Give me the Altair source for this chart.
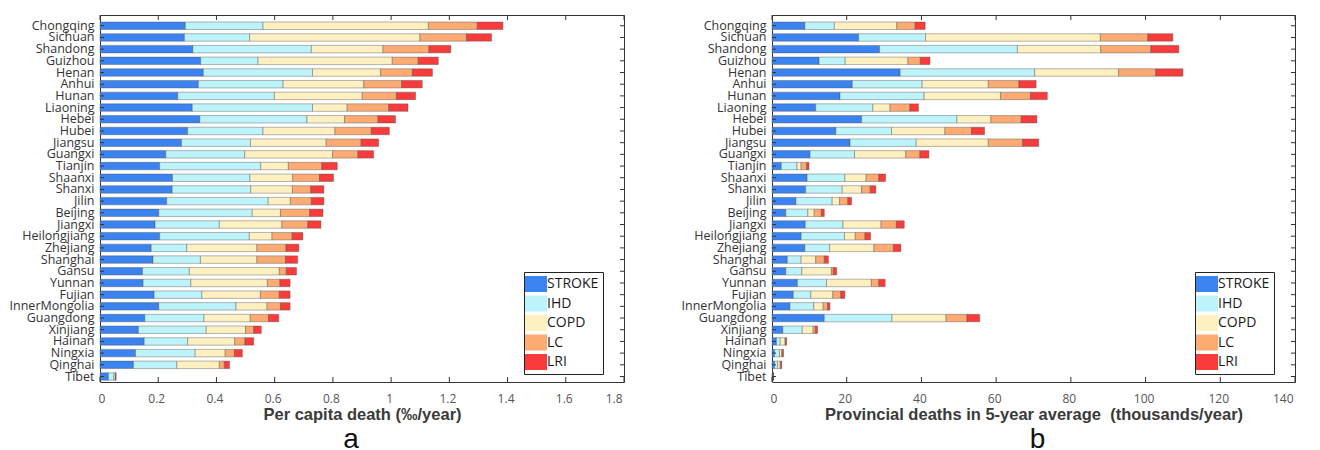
import altair as alt
import pandas as pd

# Provinces, top to bottom
provinces = [
    "Chongqing", "Sichuan", "Shandong", "Guizhou", "Henan", "Anhui", "Hunan",
    "Liaoning", "Hebei", "Hubei", "Jiangsu", "Guangxi", "Tianjin", "Shaanxi",
    "Shanxi", "Jilin", "Beijing", "Jiangxi", "Heilongjiang", "Zhejiang",
    "Shanghai", "Gansu", "Yunnan", "Fujian", "InnerMongolia", "Guangdong",
    "Xinjiang", "Hainan", "Ningxia", "Qinghai", "Tibet",
]
causes = ["STROKE", "IHD", "COPD", "LC", "LRI"]
cause_colors = ["#3b83f1", "#bdf4fb", "#fef0c1", "#fdab73", "#f93b3b"]

# (a) per capita death, per mille per year
pc_stroke = [0.293, 0.290, 0.319, 0.346, 0.355, 0.338, 0.267, 0.317, 0.343, 0.301,
             0.280, 0.226, 0.205, 0.249, 0.248, 0.229, 0.202, 0.189, 0.205, 0.176,
             0.182, 0.146, 0.148, 0.186, 0.202, 0.154, 0.132, 0.152, 0.122, 0.115, 0.029]
pc_ihd = [0.267, 0.224, 0.407, 0.197, 0.375, 0.291, 0.332, 0.413, 0.368, 0.259,
          0.237, 0.271, 0.347, 0.266, 0.270, 0.349, 0.321, 0.221, 0.308, 0.122,
          0.163, 0.161, 0.164, 0.164, 0.265, 0.203, 0.233, 0.149, 0.205, 0.149, 0.019]
pc_copd = [0.568, 0.585, 0.246, 0.461, 0.234, 0.277, 0.302, 0.119, 0.129, 0.247,
           0.260, 0.302, 0.095, 0.147, 0.143, 0.076, 0.097, 0.215, 0.078, 0.241,
           0.194, 0.309, 0.263, 0.201, 0.107, 0.159, 0.135, 0.162, 0.103, 0.146, 0.005]
pc_lc = [0.168, 0.160, 0.158, 0.089, 0.109, 0.130, 0.117, 0.143, 0.115, 0.125,
         0.120, 0.087, 0.115, 0.092, 0.063, 0.072, 0.100, 0.089, 0.069, 0.100,
         0.098, 0.024, 0.043, 0.065, 0.046, 0.063, 0.028, 0.035, 0.032, 0.017, 0.001]
pc_lri = [0.088, 0.086, 0.075, 0.069, 0.069, 0.071, 0.066, 0.066, 0.060, 0.062,
          0.060, 0.054, 0.053, 0.048, 0.045, 0.043, 0.046, 0.045, 0.037, 0.044,
          0.042, 0.035, 0.035, 0.037, 0.033, 0.035, 0.026, 0.030, 0.027, 0.018, 0.001]

# (b) provincial deaths, 5-year average, thousands per year
pv_stroke = [8.8, 23.2, 28.8, 12.6, 34.3, 21.5, 18.2, 11.7, 24.0, 17.1,
             20.9, 10.2, 2.5, 9.4, 9.0, 6.4, 3.7, 8.9, 7.8, 8.8,
             4.1, 3.7, 6.8, 5.7, 4.8, 14.0, 2.9, 1.2, 0.7, 0.7, 0.2]
pv_ihd = [7.9, 17.9, 36.9, 7.0, 36.0, 18.7, 22.5, 15.3, 25.5, 14.9,
          17.7, 11.9, 4.2, 10.1, 9.8, 9.7, 5.9, 10.1, 11.6, 6.6,
          3.7, 4.3, 7.8, 4.7, 6.4, 18.1, 5.2, 1.0, 1.3, 0.8, 0.1]
pv_copd = [16.7, 46.8, 22.3, 16.8, 22.5, 17.7, 20.5, 4.6, 9.1, 14.3,
           19.3, 13.7, 1.1, 5.7, 5.2, 2.0, 1.7, 10.2, 2.9, 11.9,
           3.9, 7.9, 12.0, 5.9, 2.5, 14.5, 2.9, 1.3, 0.6, 0.7, 0.05]
pv_lc = [4.9, 12.7, 13.4, 3.3, 9.9, 8.2, 8.0, 5.3, 8.1, 7.1,
         9.2, 3.8, 1.5, 3.4, 2.3, 2.2, 1.9, 4.1, 2.6, 5.2,
         2.3, 0.5, 2.0, 2.1, 1.2, 5.6, 0.6, 0.2, 0.2, 0.2, 0.02]
pv_lri = [2.7, 6.7, 7.5, 2.6, 7.3, 4.6, 4.5, 2.3, 4.2, 3.5,
          4.3, 2.4, 0.6, 1.8, 1.5, 1.0, 0.8, 2.1, 1.5, 2.0,
          1.1, 0.9, 1.7, 1.1, 0.6, 3.4, 0.6, 0.2, 0.3, 0.2, 0.03]

ticks_a = [0, 0.2, 0.4, 0.6, 0.8, 1, 1.2, 1.4, 1.6, 1.8]
ticks_b = [0, 20, 40, 60, 80, 100, 120, 140]

H = 367
FONT = "Open Sans"
FRAME = "#333333"


def long_table(series):
    rows = []
    for k, cause in enumerate(causes):
        for prov, v in zip(provinces, series[k]):
            rows.append({"province": prov, "cause": cause, "k": k, "value": v})
    return pd.DataFrame(rows)


def panel(df, ticks, xmax, xtitle, tag, tag_dx, width):
    yscale = alt.Scale(domain=provinces, paddingInner=0.36, paddingOuter=0.375, align=0.8)
    xscale = alt.Scale(domain=[0, xmax], nice=False, zero=True)
    x_axis = alt.Axis(values=ticks, format="~r", title=xtitle, ticks=False,
                      domain=False, grid=False, labelPadding=11, tickOffset=-2,
                      labelFont=FONT, labelFontSize=12, labelColor="#555555",
                      titleFont="Liberation Sans", titleFontSize=16.5,
                      titleFontWeight="bold", titleColor="#3a3a3a", titlePadding=2)
    y_axis = alt.Axis(title=None, ticks=False, domain=False, grid=False,
                      labelPadding=6, labelFont=FONT, labelFontSize=12.5,
                      labelColor="#333333")

    bars = alt.Chart(df).mark_bar(
        stroke="#4d4d4d", strokeWidth=0.5, strokeOpacity=0.8
    ).encode(
        x=alt.X("value:Q", stack="zero", scale=xscale, axis=x_axis, title=xtitle),
        y=alt.Y("province:N", sort=provinces, scale=yscale, axis=y_axis, title=None),
        color=alt.Color("cause:N", sort=causes,
                        scale=alt.Scale(domain=causes, range=cause_colors),
                        legend=alt.Legend(title=None, orient="none",
                                          legendX=width - 100, legendY=257,
                                          strokeColor="#222222", fillColor="white",
                                          padding=4, rowPadding=3.5, labelOffset=3,
                                          symbolType="M-1.375,-1H1.375V1H-1.375Z",
                                          symbolSize=256, symbolStrokeWidth=0,
                                          labelFont=FONT, labelFontSize=14,
                                          labelColor="#1a1a1a")),
        order=alt.Order("k:Q", sort="ascending"),
    )

    tick_df = pd.DataFrame({"t": ticks})
    prov_df = pd.DataFrame({"province": provinces})
    rule = dict(color=FRAME, strokeWidth=1)

    def xt():
        return alt.X("t:Q", scale=xscale, axis=x_axis, title=xtitle)

    def yp():
        return alt.Y("province:N", sort=provinces, scale=yscale, axis=y_axis, title=None)

    # inward tick marks on all four sides of the frame
    top_ticks = alt.Chart(tick_df).mark_rule(**rule).encode(
        x=xt(), y=alt.value(0), y2=alt.value(5))
    bottom_ticks = alt.Chart(tick_df).mark_rule(**rule).encode(
        x=xt(), y=alt.value(H), y2=alt.value(H - 5))
    left_ticks = alt.Chart(prov_df).mark_rule(**rule).encode(
        y=yp(), x=alt.value(0), x2=alt.value(4))
    right_ticks = alt.Chart(prov_df).mark_rule(**rule).encode(
        y=yp(), x=alt.value(width - 4), x2=alt.value(width))

    return alt.layer(bars, top_ticks, bottom_ticks, left_ticks, right_ticks).properties(
        width=width, height=H,
        title=alt.TitleParams(tag, orient="bottom", frame="group", anchor="middle",
                              dx=tag_dx, offset=3, font="Liberation Sans", fontSize=28,
                              fontWeight="normal", color="#111111"),
    )


left = panel(long_table([pc_stroke, pc_ihd, pc_copd, pc_lc, pc_lri]),
             ticks_a, 1.8, "Per capita death (‰/year)", "a", -11, 524)
right = panel(long_table([pv_stroke, pv_ihd, pv_copd, pv_lc, pv_lri]),
              ticks_b, 140, "Provincial deaths in 5-year average \u00a0(thousands/year)",
              "b", 4, 523)

chart = alt.hconcat(left, right, spacing=148, bounds="flush").resolve_scale(
    color="independent", x="independent", y="independent"
).properties(
    padding={"left": 8, "top": 14, "right": 4, "bottom": 0},
    background="white",
).configure_view(stroke=FRAME, strokeWidth=1)

chart.save("out.html", embed_options={"renderer": "svg", "actions": False})
